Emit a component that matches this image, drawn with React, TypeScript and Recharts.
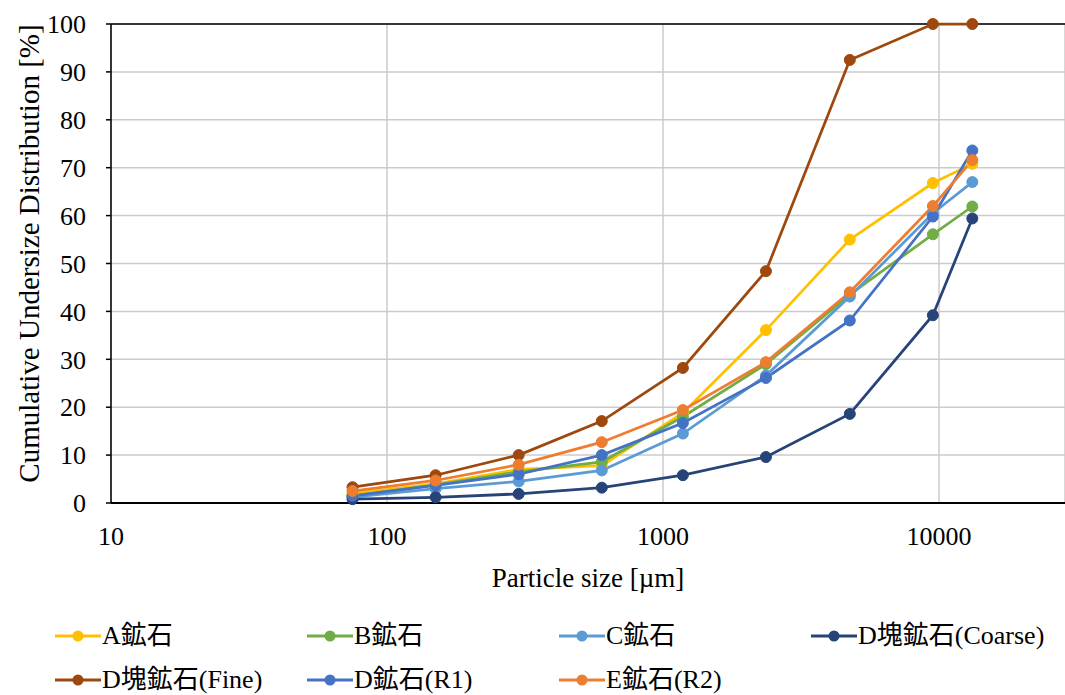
import { LineChart, Line, XAxis, YAxis, CartesianGrid, Legend, ReferenceLine } from 'recharts'

// sieve openings [µm]
const sizes = [75, 150, 300, 600, 1180, 2360, 4750, 9500, 13200]

// cumulative undersize [%] for each ore
const oreA = [2.0, 4.0, 7.0, 7.8, 18.8, 36.1, 55.0, 66.8, 70.8]
const oreB = [1.5, 3.8, 6.5, 8.6, 18.0, 29.0, 43.5, 56.1, 61.9]
const oreC = [1.2, 3.0, 4.5, 6.8, 14.5, 26.6, 43.1, 60.5, 67.0]
const oreDCoarse = [0.8, 1.2, 1.9, 3.2, 5.8, 9.6, 18.6, 39.2, 59.4]
const oreDFine = [3.3, 5.8, 10.0, 17.1, 28.2, 48.4, 92.5, 100, 100]
const oreDR1 = [1.5, 3.7, 6.0, 10.0, 16.7, 26.1, 38.1, 59.8, 73.6]
const oreER2 = [2.5, 4.7, 8.0, 12.7, 19.4, 29.4, 44.0, 62.0, 71.6]

const xTicks = [10, 100, 1000, 10000]
const yTicks = [0, 10, 20, 30, 40, 50, 60, 70, 80, 90, 100]

const series = [
  { key: 'A', name: 'A鉱石', color: '#FFC000', values: oreA },
  { key: 'B', name: 'B鉱石', color: '#70AD47', values: oreB },
  { key: 'C', name: 'C鉱石', color: '#5B9BD5', values: oreC },
  { key: 'DC', name: 'D塊鉱石(Coarse)', color: '#264478', values: oreDCoarse },
  { key: 'DF', name: 'D塊鉱石(Fine)', color: '#9E480E', values: oreDFine },
  { key: 'DR1', name: 'D鉱石(R1)', color: '#4472C4', values: oreDR1 },
  { key: 'ER2', name: 'E鉱石(R2)', color: '#ED7D31', values: oreER2 },
]

const data = sizes.map((size, i) => {
  const row: Record<string, number> = { size }
  series.forEach((s) => { row[s.key] = s.values[i] })
  return row
})

const SERIF = "'Liberation Serif', 'Times New Roman', serif"
const LEGEND_FONT = "'Liberation Serif', 'Noto Sans CJK JP', serif"

// two rows of four columns under the plot
function OreLegend({ payload }: any) {
  return (
    <div
      style={{
        display: 'grid',
        gridTemplateColumns: 'repeat(4, 252px)',
        gridAutoRows: '44px',
        paddingLeft: 55,
        paddingTop: 11,
        fontFamily: LEGEND_FONT,
        fontSize: 26,
        lineHeight: '44px',
        color: '#000',
      }}
    >
      {(payload || []).map((item: any) => (
        <div key={item.value} style={{ display: 'flex', alignItems: 'center', whiteSpace: 'nowrap', height: 44 }}>
          <svg width={46} height={14} style={{ marginRight: 1, flex: 'none' }}>
            <line x1={0} y1={7} x2={46} y2={7} stroke={item.color} strokeWidth={3} />
            <circle cx={23} cy={7} r={5.5} fill={item.color} />
          </svg>
          <span>{item.value}</span>
        </div>
      ))}
    </div>
  )
}

function YTitle({ viewBox }: any) {
  const x = viewBox.x + 39
  const y = viewBox.y + viewBox.height / 2 - 10
  return (
    <text
      x={x}
      y={y}
      transform={`rotate(-90, ${x}, ${y})`}
      textAnchor="middle"
      fontFamily={SERIF}
      fontSize={29}
      fill="#000"
    >
      Cumulative Undersize Distribution [%]
    </text>
  )
}

const tickStyle = { fill: '#000', fontSize: 26, fontFamily: SERIF }

export default function App() {
  return (
    <div style={{ position: 'absolute', left: 0, top: 0, width: 1065, height: 695, background: '#fff' }}>
      <LineChart width={1065} height={695} data={data} margin={{ top: 24, right: 0, bottom: 2, left: 0 }}>
        <CartesianGrid stroke="#CBCBCB" strokeWidth={1.5} />
        <XAxis
          dataKey="size"
          type="number"
          scale="log"
          domain={[10, 28600]}
          ticks={xTicks}
          allowDataOverflow
          height={100}
          tickLine={false}
          tickSize={0}
          tickMargin={24}
          axisLine={{ stroke: '#000', strokeWidth: 2 }}
          tick={tickStyle}
          label={{ value: 'Particle size [µm]', position: 'insideBottom', offset: 16, fill: '#000', fontSize: 27, fontFamily: SERIF }}
        />
        <YAxis
          type="number"
          domain={[0, 100]}
          ticks={yTicks}
          width={111}
          tickSize={5}
          tickMargin={20}
          tickLine={{ stroke: '#000', strokeWidth: 1.5 }}
          axisLine={{ stroke: '#000', strokeWidth: 1.5 }}
          tick={tickStyle}
          label={{ content: YTitle }}
        />
        <ReferenceLine y={100} stroke="#000" strokeWidth={1.5} />
        <Legend verticalAlign="bottom" height={90} wrapperStyle={{ left: 0, width: 1065 }} content={OreLegend} />
        {series.map((s) => (
          <Line
            key={s.key}
            dataKey={s.key}
            name={s.name}
            stroke={s.color}
            strokeWidth={2.75}
            dot={{ r: 5.5, fill: s.color, stroke: s.color, strokeWidth: 1 }}
            activeDot={false}
            isAnimationActive={false}
          />
        ))}
      </LineChart>
    </div>
  )
}
